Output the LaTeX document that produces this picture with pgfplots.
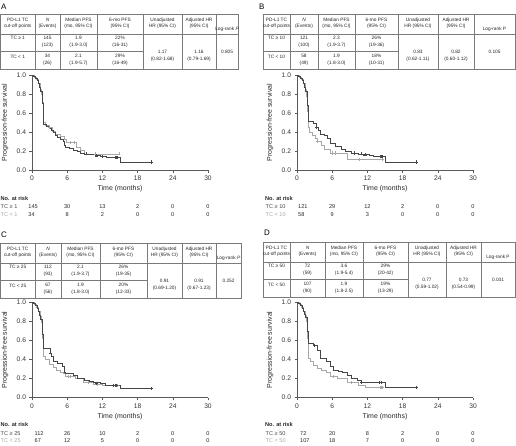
\documentclass[border=0pt]{standalone}
\usepackage{fontspec}
\setmainfont{Liberation Sans}
\usepackage{pgfplots}
\pgfplotsset{compat=1.18}
\definecolor{dk}{HTML}{464646}
\definecolor{lt}{HTML}{A8A8A8}
\definecolor{gridc}{HTML}{7A7A7A}

\pgfplotsset{kmaxis/.style={
  width=176bp, height=95bp, scale only axis, anchor=south west, clip=false,
  xmin=0, xmax=30, ymin=0, ymax=1,
  axis x line*=bottom, axis y line*=left,
  xtick={0,6,12,18,24,30}, ytick={0,0.2,0.4,0.6,0.8,1.0},
  tick align=outside, major tick length=2.5bp,
  /pgf/number format/assume math mode=true,
  yticklabel style={/pgf/number format/.cd, fixed, fixed zerofill, precision=1},
  tick label style={font=\fontsize{6.7}{8}\selectfont, text=black!80},
  axis line style={black!65, line width=0.5bp},
  every tick/.style={black!65, line width=0.5bp},
  xlabel={Time (months)}, ylabel={Progression-free survival},
  label style={font=\fontsize{7}{8}\selectfont, text=black!85},
  xlabel style={at={(axis description cs:0.5,-0.2)}, anchor=center},
  ylabel style={at={(axis description cs:-0.153,0.5)}, anchor=center},
},
dkline/.style={const plot, no marks, color=dk, line width=0.65bp},
ltline/.style={const plot, no marks, color=lt, line width=0.65bp},
dkcens/.style={only marks, mark=+, mark size=1.6bp, color=dk, mark options={line width=0.5bp}},
ltcens/.style={only marks, mark=+, mark size=1.6bp, color=lt, mark options={line width=0.5bp}},
}

\tikzset{
  tb/.style={font=\fontsize{4.8}{6.5}\selectfont, align=center, inner sep=0pt, text=black!85},
  rk/.style={font=\fontsize{5.6}{6.5}\selectfont, inner sep=0pt, text=black!85},
  tl/.style={gridc, line width=0.5bp},
  px/.style={x=1bp, y=-1bp},
}

\newcommand{\settbl}[9]{\def\ca{#1}\def\cb{#2}\def\cc{#3}\def\cd{#4}\def\ce{#5}\def\cf{#6}\def\cg{#7}\def\ch{#8}\def\ty{#9}}
\newcommand{\drawtbl}[1]{%
  \draw[tl] (\ca,\ty) rectangle (\ch,\ty+55);
  \foreach \c in {\cb,\cc,\cd,\ce,\cf,\cg} {\draw[tl] (\c,\ty) -- (\c,\ty+55);}
  \draw[tl] (\ca,\ty+20) -- (\ch,\ty+20);
  \draw[tl] (\ca,\ty+37) -- (\ce,\ty+37);
  \node[tb] at ({(\ca+\cb)/2},\ty+9.5) {PD-L1 TC\\cut-off points};
  \node[tb] at ({(\cb+\cc)/2},\ty+9.5) {\textit{N}\\(Events)};
  \node[tb] at ({(\cc+\cd)/2},\ty+9.5) {Median PFS\\(mo, 95\% CI)};
  \node[tb] at ({(\cd+\ce)/2},\ty+9.5) {6-mo PFS\\(95\% CI)};
  \node[tb] at ({(\ce+\cf)/2},\ty+9.5) {Unadjusted\\HR (95\% CI)};
  \node[tb] at ({(\cf+\cg)/2},\ty+9.5) {Adjusted HR\\(95\% CI)};
  \node[tb] at ({(\cg+\ch)/2},\ty+15) {#1};
}
\newcommand{\tblrows}[8]{%
  \node[tb] at ({(\ca+\cb)/2},\ty+24.3) {#1};
  \node[tb] at ({(\cb+\cc)/2},\ty+27.7) {#2};
  \node[tb] at ({(\cc+\cd)/2},\ty+27.7) {#3};
  \node[tb] at ({(\cd+\ce)/2},\ty+27.7) {#4};
  \node[tb] at ({(\ca+\cb)/2},\ty+42.5) {#5};
  \node[tb] at ({(\cb+\cc)/2},\ty+45.7) {#6};
  \node[tb] at ({(\cc+\cd)/2},\ty+45.7) {#7};
  \node[tb] at ({(\cd+\ce)/2},\ty+45.7) {#8};
}
\newcommand{\tblhr}[3]{%
  \node[tb] at ({(\ce+\cf)/2},\ty+41.7) {#1};
  \node[tb] at ({(\cf+\cg)/2},\ty+41.7) {#2};
  \node[tb] at ({(\cg+\ch)/2},\ty+38.3) {#3};
}
% #1 label x, #2 y, #3 label, #4 label colour, #5 axis x0, #6 first number left x, #7 list
\newcommand{\riskrow}[7]{%
  \node[rk, anchor=west, text=#4] at (#1,#2) {#3};
  \foreach \v [count=\i from 0] in {#7} {%
    \ifnum\i=0 \node[rk, anchor=west] at (#6,#2) {\v};%
    \else \node[rk] at ({#5+35.2*\i},#2) {\v};\fi}%
}

\begin{document}
\begin{tikzpicture}
\useasboundingbox (0,0) rectangle (516bp,-446bp);

% ---------------- Panel A ----------------
\begin{scope}[px]
\node[anchor=west, inner sep=0pt, font=\fontsize{8}{9}\selectfont] at (1,7) {A};
\settbl{0.5}{35}{60}{97}{143}{182}{216}{238}{14}
\drawtbl{Log-rank \textit{P}}
\tblrows{TC ≥ 1}{145\\(123)}{1.9\\(1.9-3.0)}{22\%\\(16-31)}{TC < 1}{34\\(26)}{2.1\\(1.9-5.7)}{29\%\\(16-49)}
\tblhr{1.17\\(0.82-1.68)}{1.16\\(0.79-1.69)}{0.805}
\node[rk, anchor=west, font=\fontsize{5.6}{6.5}\selectfont\bfseries] at (0.5,198.3) {No. at risk};
\riskrow{0.5}{206.7}{TC ≥ 1}{dk}{32}{28.3}{145,30,13,2,0,0}
\riskrow{0.5}{214.3}{TC < 1}{lt}{32}{28.3}{34,8,2,0,0,0}
\end{scope}
\begin{axis}[kmaxis, at={(32bp,-170bp)}]
\addplot[ltline] coordinates {(0,1.0)(0.4,0.98)(0.8,0.95)(1.1,0.91)(1.4,0.85)(1.6,0.80)(1.8,0.71)(1.9,0.56)(2.0,0.50)(2.3,0.47)(3.0,0.45)(3.5,0.41)(4.0,0.38)(4.8,0.35)(5.5,0.32)(5.8,0.29)(7.5,0.24)(8.2,0.21)(8.9,0.17)(14.8,0.17)};
\addplot[dkline] coordinates {(0,1.0)(0.3,0.99)(0.6,0.97)(0.9,0.94)(1.1,0.91)(1.3,0.87)(1.5,0.83)(1.7,0.78)(1.8,0.70)(1.85,0.60)(1.9,0.52)(2.0,0.48)(2.4,0.46)(2.9,0.44)(3.3,0.42)(3.7,0.40)(3.9,0.36)(4.3,0.34)(4.8,0.32)(5.3,0.30)(5.5,0.26)(5.7,0.24)(6.4,0.23)(7.0,0.21)(7.8,0.20)(8.3,0.18)(8.9,0.17)(9.8,0.16)(10.8,0.15)(11.6,0.14)(12.6,0.13)(15.0,0.085)(20.3,0.085)};
\addplot[ltcens] coordinates {(3.0,0.45)(6.6,0.29)(7.2,0.29)(10.8,0.17)(14.8,0.17)};
\addplot[dkcens] coordinates {(9.3,0.17)(11,0.15)(11.9,0.14)(14.2,0.13)(14.4,0.13)(14.6,0.13)(20.3,0.085)};
\end{axis}

% ---------------- Panel B ----------------
\begin{scope}[px]
\node[anchor=west, inner sep=0pt, font=\fontsize{8}{9}\selectfont] at (259,7) {B};
\settbl{263}{290}{318}{355}{398}{438}{474}{515}{14}
\drawtbl{Log-rank P}
\tblrows{TC ≥ 10}{121\\(100)}{2.3\\(1.9-3.7)}{26\%\\(19-36)}{TC < 10}{58\\(49)}{1.9\\(1.8-3.0)}{18\%\\(10-31)}
\tblhr{0.83\\(0.62-1.11)}{0.82\\(0.60-1.12)}{0.105}
\node[rk, anchor=west, font=\fontsize{5.6}{6.5}\selectfont\bfseries] at (265,198.3) {No. at risk};
\riskrow{265.5}{206.7}{TC ≥ 10}{dk}{297}{298}{121,29,12,2,0,0}
\riskrow{265.5}{214.3}{TC < 10}{lt}{297}{298}{58,9,3,0,0,0}
\end{scope}
\begin{axis}[kmaxis, at={(297bp,-170bp)}]
\addplot[ltline] coordinates {(0,1.0)(0.4,0.98)(0.8,0.95)(1.1,0.91)(1.4,0.85)(1.6,0.78)(1.75,0.62)(1.85,0.45)(2.1,0.40)(2.6,0.36)(3.1,0.33)(3.5,0.30)(4.2,0.26)(4.7,0.22)(5.6,0.18)(8.6,0.11)(14.6,0.11)};
\addplot[dkline] coordinates {(0,1.0)(0.3,0.99)(0.6,0.97)(0.9,0.94)(1.1,0.91)(1.3,0.87)(1.5,0.83)(1.7,0.77)(1.8,0.68)(1.9,0.56)(2.0,0.51)(2.8,0.49)(3.3,0.45)(3.6,0.42)(3.9,0.38)(4.6,0.36)(5.2,0.33)(5.6,0.28)(6.5,0.25)(7.5,0.22)(8.3,0.20)(9.3,0.18)(10.5,0.17)(11.3,0.16)(12.3,0.15)(13.0,0.14)(15.0,0.085)(20.3,0.085)};
\addplot[ltcens] coordinates {(3.5,0.30)(6.0,0.18)(6.6,0.18)(10.6,0.11)(14.6,0.11)};
\addplot[dkcens] coordinates {(3.3,0.45)(9.8,0.18)(11,0.17)(11.6,0.16)(14.2,0.14)(14.4,0.14)(14.6,0.14)(20.3,0.085)};
\end{axis}

% ---------------- Panel C ----------------
\begin{scope}[px]
\node[anchor=west, inner sep=0pt, font=\fontsize{8}{9}\selectfont] at (1,235) {C};
\settbl{0.5}{35}{61}{100}{147}{182}{216}{241}{243}
\drawtbl{Log-rank \textit{P}}
\tblrows{TC ≥ 25}{112\\(93)}{2.1\\(1.9-3.7)}{26\%\\(19-35)}{TC < 25}{67\\(56)}{1.9\\(1.8-3.0)}{20\%\\(12-33)}
\tblhr{0.91\\(0.69-1.20)}{0.91\\(0.67-1.23)}{0.252}
\node[rk, anchor=west, font=\fontsize{5.6}{6.5}\selectfont\bfseries] at (0.5,425) {No. at risk};
\riskrow{0.5}{433.3}{TC ≥ 25}{dk}{32}{34.5}{112,26,10,2,0,0}
\riskrow{0.5}{441}{TC < 25}{lt}{32}{34.5}{67,12,5,0,0,0}
\end{scope}
\begin{axis}[kmaxis, at={(32bp,-397.5bp)}]
\addplot[ltline] coordinates {(0,1.0)(0.4,0.98)(0.8,0.95)(1.1,0.91)(1.4,0.85)(1.6,0.79)(1.75,0.62)(1.85,0.46)(2.0,0.43)(2.3,0.40)(3.0,0.35)(3.6,0.32)(4.1,0.29)(4.8,0.27)(5.3,0.25)(5.7,0.22)(7.3,0.20)(8.7,0.16)(10.5,0.14)(12.0,0.13)(14.6,0.13)};
\addplot[dkline] coordinates {(0,1.0)(0.3,0.99)(0.6,0.97)(0.9,0.94)(1.1,0.91)(1.3,0.87)(1.5,0.82)(1.7,0.76)(1.8,0.66)(1.9,0.56)(2.0,0.52)(3.1,0.47)(3.3,0.43)(3.6,0.38)(4.3,0.36)(5.2,0.33)(5.5,0.27)(5.7,0.25)(7.0,0.23)(7.8,0.20)(9.0,0.18)(9.7,0.17)(10.5,0.16)(11.6,0.15)(12.5,0.13)(15.1,0.095)(20.3,0.095)};
\addplot[ltcens] coordinates {(6.1,0.22)(6.6,0.22)(9.6,0.16)(11.2,0.14)(14.6,0.13)};
\addplot[dkcens] coordinates {(3.1,0.47)(11.0,0.15)(13.9,0.13)(14.2,0.13)(14.4,0.13)(20.3,0.095)};
\end{axis}

% ---------------- Panel D ----------------
\begin{scope}[px]
\node[anchor=west, inner sep=0pt, font=\fontsize{8}{9}\selectfont] at (264,233) {D};
\settbl{263}{290}{325}{363}{408}{446}{481}{515}{242}
\drawtbl{Log-rank P}
\tblrows{TC ≥ 50}{72\\(59)}{3.6\\(1.9-5.4)}{29\%\\(20-42)}{TC < 50}{107\\(90)}{1.9\\(1.8-2.5)}{19\%\\(13-29)}
\tblhr{0.77\\(0.59-1.02)}{0.73\\(0.54-0.99)}{0.031}
\node[rk, anchor=west, font=\fontsize{5.6}{6.5}\selectfont\bfseries] at (265,425) {No. at risk};
\riskrow{265.5}{433.3}{TC ≥ 50}{dk}{297}{300}{72,20,8,2,0,0}
\riskrow{265.5}{441}{TC < 50}{lt}{297}{300}{107,18,7,0,0,0}
\end{scope}
\begin{axis}[kmaxis, at={(297bp,-397.5bp)}]
\addplot[ltline] coordinates {(0,1.0)(0.4,0.98)(0.8,0.95)(1.1,0.91)(1.4,0.86)(1.6,0.80)(1.75,0.62)(1.85,0.44)(2.0,0.41)(2.3,0.38)(2.8,0.34)(3.4,0.31)(4.2,0.29)(5.0,0.26)(5.6,0.22)(6.8,0.20)(8.5,0.16)(10.5,0.13)(11.6,0.107)(14.6,0.107)};
\addplot[dkline] coordinates {(0,1.0)(0.3,0.99)(0.6,0.97)(0.9,0.94)(1.1,0.91)(1.3,0.88)(1.5,0.84)(1.7,0.80)(1.8,0.70)(1.9,0.60)(2.0,0.57)(2.8,0.55)(3.4,0.50)(3.9,0.41)(5.0,0.38)(5.6,0.33)(6.2,0.29)(7.0,0.28)(7.7,0.26)(8.5,0.23)(9.3,0.20)(10.2,0.18)(11.0,0.16)(15.0,0.107)(20.3,0.107)};
\addplot[ltcens] coordinates {(6.1,0.22)(9.2,0.16)(14.2,0.107)(14.4,0.107)(14.6,0.107)};
\addplot[dkcens] coordinates {(3.0,0.55)(11.0,0.16)(14.0,0.16)(14.3,0.16)(20.3,0.107)};
\end{axis}
\end{tikzpicture}
\end{document}
